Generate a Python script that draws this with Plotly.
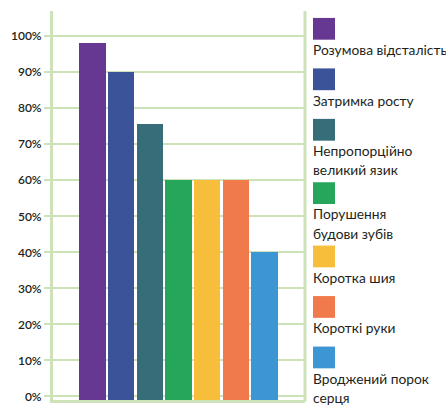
import plotly.graph_objects as go

# Symptom prevalence, percent of cases
symptoms = [
    "Розумова відсталість",
    "Затримка росту",
    "Непропорційно<br>великий язик",
    "Порушення<br>будови зубів",
    "Коротка шия",
    "Короткі руки",
    "Вроджений порок<br>серця",
]
values = [98, 90, 75.5, 60, 60, 60, 40]
colors = ["#673892", "#3B5499", "#366D78", "#25A65A", "#F6BE3B", "#F17A4D", "#3D96D4"]
tick_vals = [0, 10, 20, 30, 40, 50, 60, 70, 80, 90, 100]
tick_text = [f"{v}%" for v in tick_vals]

W, H = 446, 409
M_L, M_R, M_T, M_B = 53, 141, 11, 5
GRID = "#CDE2B8"
TEXT = "#231F20"
FONT = "Lato"
Y_FLOOR, Y_TOP = -1.0, 107.0

fig = go.Figure()
fig.add_trace(go.Bar(
    x=list(range(len(values))),
    y=[v - Y_FLOOR for v in values],
    base=Y_FLOOR,  # bars rise from the plot floor so they meet the frame line
    marker=dict(color=colors, line=dict(width=0)),
    width=0.92,
    showlegend=False,
    hoverinfo="skip",
))

# pixel -> paper helpers for the side key
pw, ph = W - M_L - M_R, H - M_T - M_B
def px_x(px):
    return (px - M_L) / pw
def px_y(py):
    return (H - M_B - py) / ph

shapes = [
    # right border of the plot frame
    dict(type="line", xref="paper", yref="paper", x0=1, x1=1, y0=-0.004, y1=1,
         line=dict(color=GRID, width=3)),
]
annotations = []
top = 18
sq = 22
line_gap = 19.5
for name, col in zip(symptoms, colors):
    lines = name.split("<br>")
    shapes.append(dict(type="rect", xref="paper", yref="paper",
                       x0=px_x(313), x1=px_x(313 + sq), y0=px_y(top + sq), y1=px_y(top),
                       fillcolor=col, line=dict(width=0)))
    for k, ln in enumerate(lines):
        annotations.append(dict(xref="paper", yref="paper", x=px_x(311), y=px_y(top + 32 + k * line_gap),
                                text=ln, showarrow=False, xanchor="left", yanchor="middle",
                                font=dict(family=FONT, size=13.8, color=TEXT)))
    top += 51 if len(lines) == 1 else 64

fig.update_layout(
    width=W, height=H,
    margin=dict(l=M_L, r=M_R, t=M_T, b=M_B, pad=0),
    paper_bgcolor="white", plot_bgcolor="white",
    shapes=shapes, annotations=annotations,
    bargap=0,
)
fig.update_xaxes(range=[-1.378, 7.41], showticklabels=False, showgrid=False, zeroline=False,
                 showline=True, linecolor=GRID, linewidth=3, ticks="")
fig.update_yaxes(range=[Y_FLOOR, Y_TOP], tickvals=tick_vals, ticktext=tick_text,
                 showgrid=True, gridcolor=GRID, gridwidth=2, zeroline=False,
                 showline=True, linecolor=GRID, linewidth=3,
                 ticks="outside", ticklen=6, tickcolor=GRID, tickwidth=2,
                 tickfont=dict(family=FONT, size=12, color=TEXT, weight=600))

fig.write_html("out.html")
